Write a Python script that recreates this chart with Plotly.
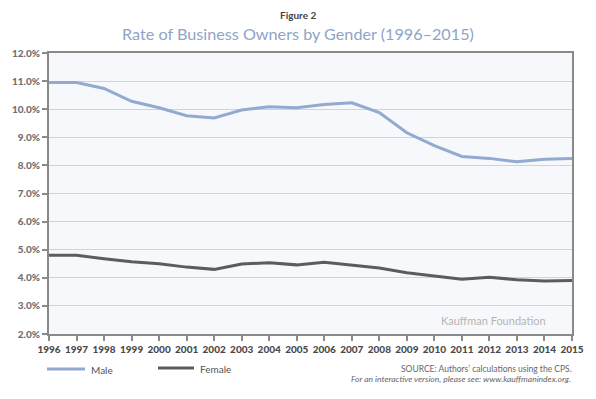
import plotly.graph_objects as go

years = list(range(1996, 2016))
male = [10.95, 10.95, 10.74, 10.28, 10.05, 9.77, 9.69, 9.97, 10.09, 10.05,
        10.17, 10.23, 9.88, 9.16, 8.70, 8.32, 8.25, 8.13, 8.22, 8.25]
female = [4.80, 4.80, 4.68, 4.57, 4.50, 4.38, 4.30, 4.49, 4.54, 4.46,
          4.55, 4.46, 4.35, 4.18, 4.07, 3.95, 4.02, 3.93, 3.89, 3.90]
y_ticks = [2, 3, 4, 5, 6, 7, 8, 9, 10, 11, 12]
y_tick_labels = [f"{v:.1f}%" for v in y_ticks]
series_names = ["Male", "Female"]

MALE_C = "#93aad0"
FEMALE_C = "#5c5c5c"
FONT = "Lato"

L, R, T, B = 49, 572, 53, 334

fig = go.Figure()
fig.add_trace(go.Scatter(x=years, y=male, mode="lines", name=series_names[0],
                         line=dict(color=MALE_C, width=3)))
fig.add_trace(go.Scatter(x=years, y=female, mode="lines", name=series_names[1],
                         line=dict(color=FEMALE_C, width=3)))

fig.update_layout(
    width=596, height=399,
    margin=dict(l=L, r=596 - R, t=T, b=399 - B),
    paper_bgcolor="white",
    plot_bgcolor="#f7f8fb",
    font=dict(family=FONT, color="#555"),
    showlegend=False,
    xaxis=dict(range=[1996, 2015], tickmode="array", tickvals=years,
               ticktext=[str(y) for y in years], automargin=False,
               showgrid=False, zeroline=False,
               showline=True, linecolor="#8a8a8a", linewidth=2, mirror=True,
               ticks="outside", ticklen=5, tickcolor="#8a8a8a", tickwidth=1.5,
               tickfont=dict(size=10, color="#4a4a4a", family=FONT + " Black"),
               tickangle=0),
    yaxis=dict(range=[2, 12], tickmode="array", tickvals=y_ticks,
               ticktext=y_tick_labels, automargin=False,
               showgrid=True, gridcolor="#d3d3d3", gridwidth=1, zeroline=False,
               showline=True, linecolor="#8a8a8a", linewidth=2, mirror=True,
               ticks="outside", ticklen=5, tickcolor="#8a8a8a", tickwidth=1.5,
               tickfont=dict(size=10, color="#707070", family=FONT + " Black")),
)

def px_x(px):
    return (px - L) / (R - L)

def px_y(py):
    return (B - py) / (B - T)

fig.add_annotation(text="<b>Figure 2</b>", x=px_x(298), y=px_y(15),
                   xref="paper", yref="paper", showarrow=False, xanchor="center", yanchor="middle",
                   font=dict(size=10, color="#444", family=FONT))
fig.add_annotation(text="Rate of Business Owners by Gender (1996–2015)",
                   x=px_x(298), y=px_y(33), xref="paper", yref="paper",
                   showarrow=False, xanchor="center", yanchor="middle",
                   font=dict(size=16.2, color="#8ea4c8", family=FONT))
fig.add_annotation(text="Kauffman Foundation", x=px_x(548), y=px_y(320),
                   xref="paper", yref="paper", showarrow=False, xanchor="right", yanchor="middle",
                   font=dict(size=11, color="#b5b5b5", family=FONT))
fig.add_annotation(text="SOURCE: Authors’ calculations using the CPS.", x=px_x(574), y=px_y(369),
                   xref="paper", yref="paper", showarrow=False, xanchor="right", yanchor="middle",
                   font=dict(size=8.5, color="#666", family=FONT))
fig.add_annotation(text="<i>For an interactive version, please see: www.kauffmanindex.org.</i>",
                   x=px_x(573), y=px_y(379),
                   xref="paper", yref="paper", showarrow=False, xanchor="right", yanchor="middle",
                   font=dict(size=8.5, color="#666", family=FONT))

# manual legend
legend_items = [(series_names[0], MALE_C, 47, 85, 369),
                (series_names[1], FEMALE_C, 158, 194, 368)]
for name, color, x0, x1, yy in legend_items:
    fig.add_shape(type="line", xref="paper", yref="paper",
                  x0=px_x(x0), x1=px_x(x1), y0=px_y(yy), y1=px_y(yy),
                  line=dict(color=color, width=3))
    fig.add_annotation(text=name, x=px_x(x1 + 4), y=px_y(yy + 1), xref="paper", yref="paper",
                       showarrow=False, xanchor="left", yanchor="middle",
                       font=dict(size=10, color="#555", family=FONT))

fig.write_html("out.html",
               config={"displayModeBar": False},
               post_script="document.body.style.margin='0';document.body.style.overflow='hidden';")
